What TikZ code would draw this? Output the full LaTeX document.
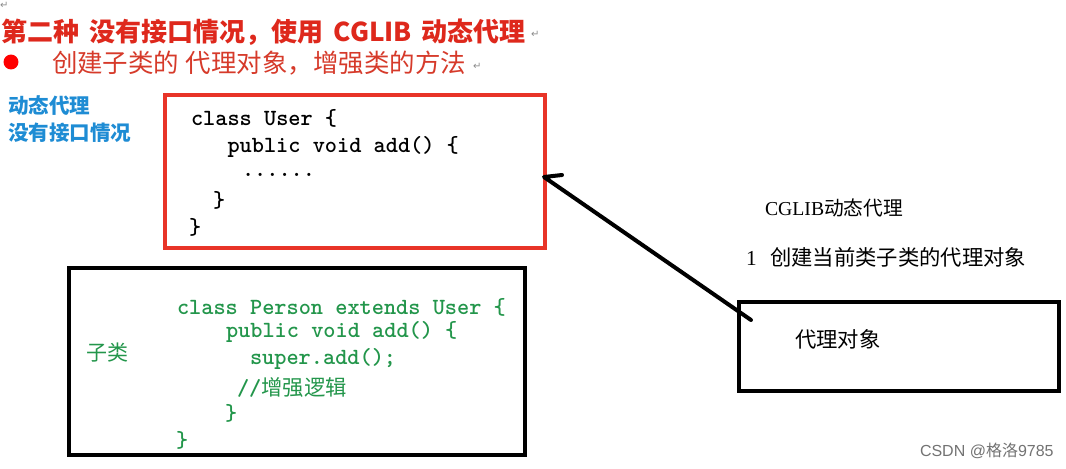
\documentclass[tikz,border=0pt]{standalone}
\usepackage{fontspec}
\setmainfont{Liberation Serif}
\newfontfamily\cjk{Noto Sans CJK SC}
\newfontfamily\wmfont{Liberation Sans}
\newfontfamily\symfont{DejaVu Sans}
\definecolor{titlered}{RGB}{222,40,28}
\definecolor{bulletred}{RGB}{214,58,42}
\definecolor{boxred}{RGB}{232,52,40}
\definecolor{bluetxt}{RGB}{30,140,212}
\definecolor{codegreen}{RGB}{35,150,75}
\begin{document}
\begin{tikzpicture}[x=0.75pt,y=-0.75pt,
  every node/.style={inner sep=0pt,outer sep=0pt},
  boxstyle/.style={draw,line width=3.3pt,rectangle},
  codeline/.style={anchor=west,font=\ttfamily\bfseries\fontsize{17.4pt}{20pt}\selectfont},
  retmark/.style={anchor=west,text=black!45,font=\symfont\fontsize{7.5pt}{9pt}\selectfont},
  righttxt/.style={anchor=west,text=black},
  conn/.style={line width=3pt,line cap=round,line join=round,black}]
\useasboundingbox (0,0) rectangle (1066,468);
\fill[white] (0,0) rectangle (1066,468);

% header
\node[retmark] (rm1) at (0,5) {↵};
\node[anchor=west,text=titlered,font=\cjk\bfseries\fontsize{19.5pt}{22pt}\selectfont] (title) at (2,32) {第二种\hspace{3pt} 没有接口情况，使用\hspace{3pt} CGLIB\hspace{3pt} 动态代理};
\node[retmark] (rm2) at (531,34) {↵};
\node[circle,fill=red,minimum size=11.2pt] (bullet) at (11,62) {};
\node[anchor=west,text=bulletred,font=\cjk\fontsize{19.1pt}{22pt}\selectfont] (bulltxt) at (52,63) {创建子类的\hspace{5pt}代理对象，增强类的方法};
\node[retmark] (rm3) at (473,66) {↵};

% blue labels
\node[anchor=west,text=bluetxt,font=\cjk\bfseries\fontsize{15.4pt}{18pt}\selectfont] (blue1) at (8,106) {动态代理};
\node[anchor=west,text=bluetxt,font=\cjk\bfseries\fontsize{15.4pt}{18pt}\selectfont] (blue2) at (8,133) {没有接口情况};

% User box
\node[boxstyle,draw=boxred,minimum width=285pt,minimum height=114.75pt] (user) at (355,171.5) {};
\node[codeline] (u1) at (191,118) {class User \{};
\node[codeline] (u2) at (227.5,147) {public void add() \{};
\node[codeline] (u3) at (242,175) {......};
\node[codeline] (u4) at (213,200) {\}};
\node[codeline] (u5) at (189,227) {\}};

% Person box
\node[boxstyle,draw=black,minimum width=342pt,minimum height=140.25pt] (person) at (297,361.5) {};
\node[anchor=west,text=codegreen,font=\cjk\fontsize{15.75pt}{18pt}\selectfont] (sub) at (86,353) {子类};
\node[codeline,text=codegreen] (p1) at (177,307) {class Person extends User \{};
\node[codeline,text=codegreen] (p2) at (226,332) {public void add() \{};
\node[codeline,text=codegreen] (p3) at (250,359) {super.add();};
\node[codeline,text=codegreen] (p4) at (237,387) {//{\cjk\mdseries\fontsize{16pt}{20pt}\selectfont 增强逻辑}};
\node[codeline,text=codegreen] (p5) at (225,413) {\}};
\node[codeline,text=codegreen] (p6) at (176,440) {\}};

% right side
\node[righttxt,font=\fontsize{14.8pt}{18pt}\selectfont] (cg1) at (765,208) {CGLIB{\cjk 动态代理}};
\node[righttxt,font=\fontsize{16pt}{18pt}\selectfont] (cg2) at (746,257) {1\hspace{10pt}{\cjk 创建当前类子类的代理对象}};
\node[boxstyle,draw=black,minimum width=240pt,minimum height=66.75pt] (proxy) at (899,346.5) {};
\node[righttxt,font=\cjk\fontsize{16pt}{18pt}\selectfont] (proxytxt) at (795,339) {代理对象};

% connector
\coordinate (pstart) at (751,320);
\coordinate (tip) at (544,177);
\draw[conn] (pstart) -- (tip) -- ++(18,-2);

% watermark
\node[anchor=west,text=black!55,font=\wmfont\fontsize{12pt}{14pt}\selectfont] (wm) at (920,451) {CSDN @{\cjk 格洛}9785};
\end{tikzpicture}
\end{document}
